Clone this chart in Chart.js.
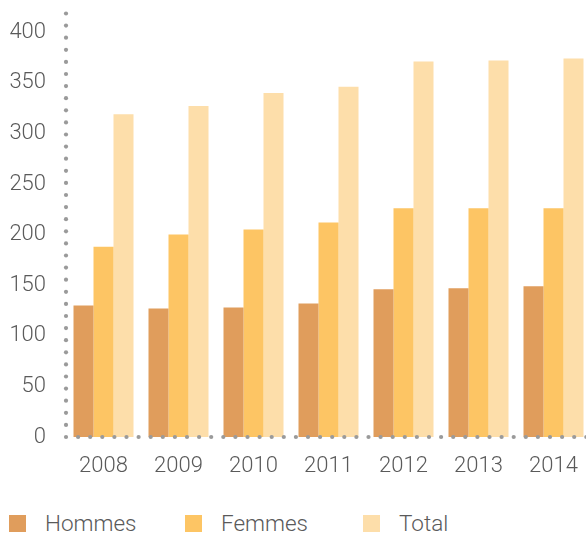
<!DOCTYPE html>
<html>
<head>
<meta charset="utf-8">
<script src="https://cdn.jsdelivr.net/npm/chart.js@4"></script>
<style>
  html, body { margin: 0; padding: 0; background: #fff; overflow: hidden; }
  #wrap { position: relative; width: 586px; height: 539px; overflow: hidden; }
  #c { position: absolute; left: 0; top: 0; }
  .legend { position: absolute; top: 510px; left: 0; width: 586px; height: 30px; font-family: Roboto, sans-serif; font-weight: 300; font-size: 22.5px; color: #5a5a5a; }
  .item { position: absolute; top: 0; display: flex; align-items: center; }
  .box { width: 17px; height: 17px; margin-right: 19px; }
</style>
</head>
<body>
<div id="wrap">
  <canvas id="c" width="591" height="490"></canvas>
  <div class="legend" id="legend"></div>
</div>
<script>
const categories = ['2008', '2009', '2010', '2011', '2012', '2013', '2014'];
const hommes = [130, 127, 128, 132, 146, 147, 149];
const femmes = [188, 200, 205, 212, 226, 226, 226];
const total = [319, 327, 340, 346, 371, 372, 374];
const seriesNames = ['Hommes', 'Femmes', 'Total'];
const seriesColors = ['#E09D5C', '#FDC564', '#FDDEAA'];
const yTicks = [0, 50, 100, 150, 200, 250, 300, 350, 400];

const dottedAxes = {
  id: 'dottedAxes',
  afterDatasetsDraw(chart) {
    const ctx = chart.ctx;
    const a = chart.chartArea;
    ctx.save();
    ctx.fillStyle = '#9a9a9a';
    const step = 12.1;
    for (let y = a.bottom; y >= a.top - 1; y -= step) {
      ctx.beginPath(); ctx.arc(a.left, y, 2.1, 0, Math.PI * 2); ctx.fill();
    }
    for (let x = a.left + step; x <= a.right + 2; x += step) {
      ctx.beginPath(); ctx.arc(x, a.bottom, 2.1, 0, Math.PI * 2); ctx.fill();
    }
    ctx.restore();
  }
};

const data = [hommes, femmes, total];
new Chart(document.getElementById('c'), {
  type: 'bar',
  data: {
    labels: categories,
    datasets: seriesNames.map((n, i) => ({
      label: n, data: data[i], backgroundColor: seriesColors[i],
      borderWidth: 0, barPercentage: 1, categoryPercentage: 0.8
    }))
  },
  options: {
    responsive: false,
    animation: false,
    events: [],
    layout: { padding: { top: 13, right: 0, left: 0, bottom: 0 } },
    plugins: { legend: { display: false }, tooltip: { enabled: false } },
    scales: {
      x: {
        grid: { display: false, drawTicks: false },
        border: { display: false },
        ticks: { color: '#5a5a5a', font: { family: 'Roboto', weight: 300, size: 22 }, padding: 16 },
        afterFit(s) { s.height = 53; s.paddingLeft = 0; s.paddingRight = 0; }
      },
      y: {
        min: 0, max: 419,
        grid: { display: false, drawTicks: false },
        border: { display: false },
        afterBuildTicks(s) { s.ticks = yTicks.map(v => ({ value: v })); },
        ticks: { color: '#5a5a5a', font: { family: 'Roboto', weight: 300, size: 22 }, padding: 20 },
        afterFit(s) { s.width = 66; s.paddingTop = 0; s.paddingBottom = 0; }
      }
    }
  },
  plugins: [dottedAxes]
});

const lg = document.getElementById('legend');
const lefts = [9, 185, 363];
seriesNames.forEach((n, i) => {
  const d = document.createElement('div');
  d.className = 'item';
  d.style.left = lefts[i] + 'px';
  d.innerHTML = '<div class="box" style="background:' + seriesColors[i] + '"></div><span>' + n + '</span>';
  lg.appendChild(d);
});
</script>
</body>
</html>
